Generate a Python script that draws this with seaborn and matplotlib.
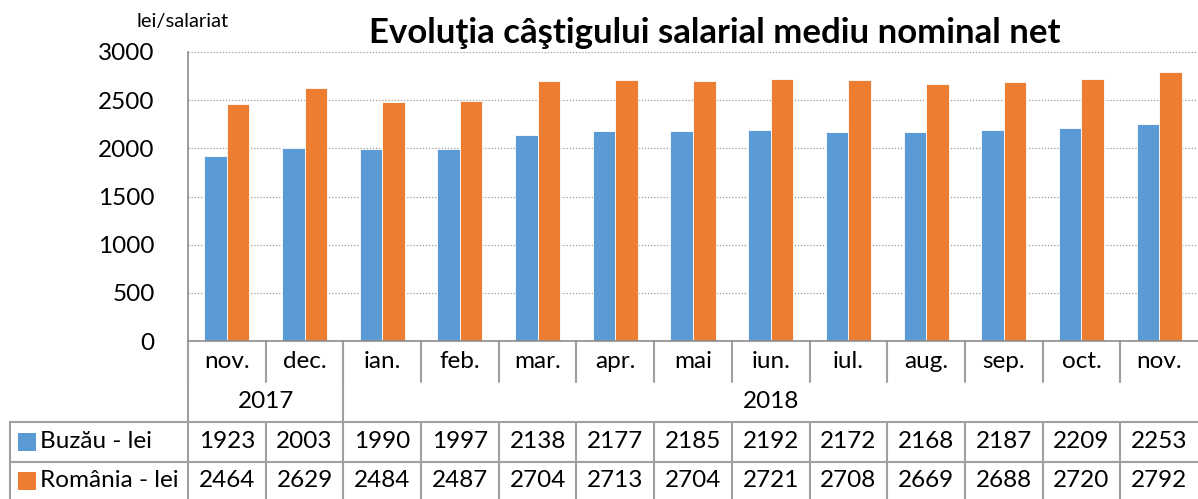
import matplotlib
matplotlib.use("Agg")
import matplotlib.pyplot as plt
import matplotlib.transforms as mtransforms
import seaborn as sns
import pandas as pd

months = ["nov.", "dec.", "ian.", "feb.", "mar.", "apr.", "mai", "iun.",
          "iul.", "aug.", "sep.", "oct.", "nov."]
years = ["2017", "2018"]
year_spans = [2, 11]
buzau = [1923, 2003, 1990, 1997, 2138, 2177, 2185, 2192, 2172, 2168, 2187, 2209, 2253]
romania = [2464, 2629, 2484, 2487, 2704, 2713, 2704, 2721, 2708, 2669, 2688, 2720, 2792]
series_names = ["Buzău - lei", "România - lei"]
colors = ["#5B9BD5", "#ED7D31"]
title = "Evoluţia câştigului salarial mediu nominal net"
unit_label = "lei/salariat"

sns.set_theme(style="white")
plt.rcParams["font.family"] = ["Lato", "DejaVu Sans"]
plt.rcParams["text.color"] = "black"

FS = 17.5

keys = [f"{i:02d}" for i in range(len(months))]
df = pd.DataFrame({
    "key": keys * 2,
    "value": buzau + romania,
    "serie": [series_names[0]] * len(months) + [series_names[1]] * len(months),
})

fig = plt.figure(figsize=(11.98, 4.99), dpi=100)
ax = fig.add_axes([188 / 1198, (499 - 341) / 499, 1010 / 1198, 289 / 499])

sns.barplot(data=df, x="key", y="value", hue="serie", palette=colors,
            width=0.58, ax=ax, legend=False, saturation=1, edgecolor="white",
            linewidth=0.6)

n = len(months)
ax.set_xlim(-0.5, n - 0.5)
ax.set_ylim(0, 3000)
ax.set_yticks(range(0, 3001, 500))
ax.set_xticks([])
ax.set_xlabel("")
ax.set_ylabel("")
ax.tick_params(axis="y", length=0, pad=24, labelsize=FS, labelcolor="black")
ax.yaxis.grid(True, linestyle=(0, (1, 1.5)), color="#9a9a9a", linewidth=0.9)
ax.set_axisbelow(True)
for s in ["top", "right"]:
    ax.spines[s].set_visible(False)
for s in ["left", "bottom"]:
    ax.spines[s].set_color("#8c8c8c")
    ax.spines[s].set_linewidth(1.2)

fig.text(715 / 1198, 1 - 33 / 499, title, ha="center", va="center",
         fontsize=25, fontweight="bold", color="black")
fig.text(183 / 1198, 1 - 22 / 499, unit_label, ha="center", va="center",
         fontsize=14.5, color="black")

# data table beneath the axis
tr = mtransforms.blended_transform_factory(ax.transData, ax.transAxes)
line_kw = dict(color="#a0a0a0", linewidth=1.5, transform=tr, clip_on=False)
y_month = -41 / 289     # bottom of month row
y_year = -81 / 289      # bottom of year row / top of value rows
y_mid = -121 / 289      # between the two value rows
y_bottom = -158 / 289
col_px = 1010 / 13
left_edge = -0.5 + (10 - 188) / col_px

# vertical lines of the month row
for k in range(n):
    ax.plot([k - 0.5, k - 0.5], [0, y_month], **line_kw)
# year separators
bounds = [-0.5]
for span in year_spans:
    bounds.append(bounds[-1] + span)
for b in bounds[:-1]:
    ax.plot([b, b], [0, y_year], **line_kw)
# value rows grid
for k in range(n):
    ax.plot([k - 0.5, k - 0.5], [y_year, y_bottom - 0.02], **line_kw)
ax.plot([left_edge, left_edge], [y_year, y_bottom - 0.02], **line_kw)
for yy in [y_year, y_mid]:
    ax.plot([left_edge, n - 0.5], [yy, yy], **line_kw)

txt_kw = dict(transform=tr, ha="center", va="center", fontsize=FS, clip_on=False,
              color="black")
for i, m in enumerate(months):
    ax.text(i, y_month / 2, m, **txt_kw)
for j, y in enumerate(years):
    ax.text((bounds[j] + bounds[j + 1]) / 2, (y_month + y_year) / 2, y, **txt_kw)

row_mid = [(y_year + y_mid) / 2, (y_mid + y_bottom) / 2]
for r, vals in enumerate([buzau, romania]):
    for i, v in enumerate(vals):
        ax.text(i, row_mid[r], str(v), **txt_kw)
    sq_x = left_edge + 16.5 / col_px
    ax.scatter([sq_x], [row_mid[r]], marker="s", s=150, color=colors[r],
               transform=tr, clip_on=False, linewidths=0)
    ax.text(left_edge + 30 / col_px, row_mid[r], series_names[r], transform=tr,
            ha="left", va="center", fontsize=FS, clip_on=False, color="black")

fig.savefig("out.png", dpi=100)
